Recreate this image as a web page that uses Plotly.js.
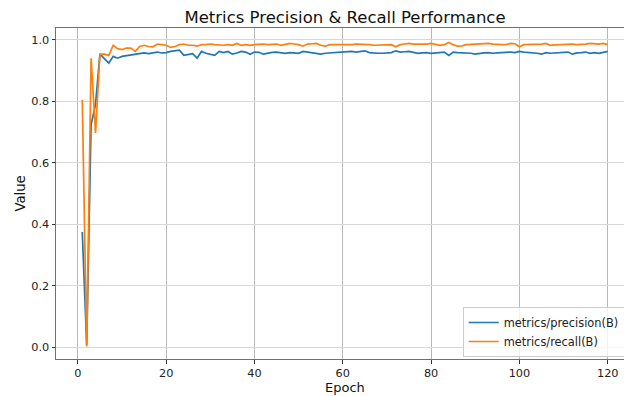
<!DOCTYPE html>
<html>
<head>
<meta charset="utf-8">
<script src="https://cdn.plot.ly/plotly-3.0.1.min.js"></script>
<style>
html, body { margin: 0; padding: 0; overflow: hidden; background: #fff; width: 624px; height: 396px; }
#chart { width: 640px; height: 396px; }
</style>
</head>
<body>
<div id="chart"></div>
<script>
const epochs = Array.from({length: 120}, (_, i) => i + 1);

const precision = [
  0.375, 0.008, 0.724, 0.790, 0.953, 0.940, 0.924, 0.946, 0.940, 0.946,
  0.948, 0.951, 0.951, 0.953, 0.957, 0.955, 0.957, 0.960, 0.957, 0.958,
  0.962, 0.964, 0.966, 0.949, 0.953, 0.955, 0.940, 0.962, 0.956, 0.953,
  0.949, 0.962, 0.958, 0.962, 0.953, 0.957, 0.962, 0.960, 0.953, 0.960,
  0.959, 0.953, 0.957, 0.959, 0.960, 0.957, 0.956, 0.958, 0.957, 0.956,
  0.962, 0.960, 0.958, 0.956, 0.953, 0.956, 0.957, 0.959, 0.960, 0.962,
  0.962, 0.962, 0.960, 0.962, 0.964, 0.958, 0.956, 0.956, 0.956, 0.956,
  0.958, 0.964, 0.960, 0.961, 0.962, 0.959, 0.956, 0.957, 0.958, 0.956,
  0.957, 0.958, 0.960, 0.949, 0.960, 0.958, 0.958, 0.956, 0.956, 0.953,
  0.956, 0.957, 0.958, 0.956, 0.957, 0.958, 0.959, 0.960, 0.958, 0.962,
  0.960, 0.959, 0.958, 0.956, 0.953, 0.958, 0.956, 0.957, 0.958, 0.959,
  0.960, 0.953, 0.957, 0.958, 0.960, 0.956, 0.958, 0.956, 0.959, 0.962
];

const recall = [
  0.805, 0.003, 0.940, 0.697, 0.953, 0.953, 0.949, 0.982, 0.971, 0.968,
  0.973, 0.973, 0.962, 0.978, 0.982, 0.978, 0.977, 0.986, 0.984, 0.982,
  0.975, 0.978, 0.984, 0.986, 0.982, 0.982, 0.979, 0.984, 0.984, 0.986,
  0.984, 0.982, 0.982, 0.984, 0.982, 0.988, 0.982, 0.984, 0.982, 0.984,
  0.986, 0.986, 0.984, 0.984, 0.986, 0.982, 0.984, 0.988, 0.986, 0.984,
  0.979, 0.986, 0.987, 0.988, 0.982, 0.979, 0.984, 0.984, 0.983, 0.982,
  0.983, 0.984, 0.986, 0.986, 0.986, 0.984, 0.982, 0.982, 0.982, 0.982,
  0.984, 0.977, 0.984, 0.986, 0.988, 0.986, 0.986, 0.984, 0.986, 0.988,
  0.986, 0.982, 0.984, 0.991, 0.984, 0.979, 0.980, 0.984, 0.985, 0.986,
  0.986, 0.988, 0.988, 0.986, 0.984, 0.984, 0.984, 0.988, 0.987, 0.977,
  0.984, 0.984, 0.984, 0.985, 0.986, 0.988, 0.982, 0.983, 0.984, 0.985,
  0.986, 0.986, 0.984, 0.984, 0.986, 0.988, 0.987, 0.986, 0.988, 0.984
];

const seriesNames = ["metrics/precision(B)", "metrics/recall(B)"];
const xTickVals = [0, 20, 40, 60, 80, 100, 120];
const yTickVals = [0.0, 0.2, 0.4, 0.6, 0.8, 1.0];
const xTitle = "Epoch";
const yTitle = "Value";

const font = "DejaVu Sans, sans-serif";

const traces = [
  { x: epochs, y: precision, name: seriesNames[0], type: "scatter", mode: "lines",
    line: { color: "#1f77b4", width: 1.7 } },
  { x: epochs, y: recall, name: seriesNames[1], type: "scatter", mode: "lines",
    line: { color: "#ff7f0e", width: 1.7 } }
];

const axisCommon = {
  showline: true, linecolor: "#707070", linewidth: 1, mirror: true,
  ticks: "outside", ticklen: 3.5, tickwidth: 1, tickcolor: "#333",
  showgrid: true, zeroline: false,
  tickfont: { family: font, size: 11.3, color: "#222" }
};

const plotTop = 28, plotBottom = 359, plotLeft = 56, plotW = 578, plotH = 331;

const layout = {
  width: 640, height: 396,
  margin: { l: plotLeft, r: 6, t: plotTop, b: 396 - plotBottom },
  paper_bgcolor: "#fff", plot_bgcolor: "#fff",
  font: { family: font, color: "#222" },
  title: { text: "Metrics Precision & Recall Performance",
           font: { family: font, size: 16.5, color: "#111" },
           x: 0.5, xref: "paper", y: 1 - 17/396, yref: "container", yanchor: "middle" },
  xaxis: Object.assign({}, axisCommon, {
    range: [-4.95, 125.95], tickvals: xTickVals, gridcolor: "#b8b8b8"
  }),
  yaxis: Object.assign({}, axisCommon, {
    range: [-0.0374, 1.0381], tickvals: yTickVals, tickformat: ".1f", gridcolor: "#d8d8d8"
  }),
  annotations: [
    { text: xTitle, xref: "paper", yref: "paper", x: 0.5, y: (plotBottom - 396) / plotH,
      xanchor: "center", yanchor: "bottom", showarrow: false, borderpad: 0,
      font: { family: font, size: 13, color: "#111" } },
    { text: yTitle, xref: "paper", yref: "paper", x: (20 - plotLeft) / plotW, y: 0.5,
      xanchor: "center", yanchor: "middle", showarrow: false, textangle: -90,
      font: { family: font, size: 13.2, color: "#111" } }
  ],
  showlegend: true,
  legend: {
    x: (462.7 - plotLeft) / plotW, xanchor: "left",
    y: (plotBottom - 357) / plotH, yanchor: "bottom",
    bgcolor: "rgba(255,255,255,0.8)", bordercolor: "#cccccc", borderwidth: 1,
    font: { family: font, size: 11.4, color: "#222" },
    itemwidth: 30
  }
};

Plotly.newPlot("chart", traces, layout, { displayModeBar: false, staticPlot: true });
</script>
</body>
</html>
